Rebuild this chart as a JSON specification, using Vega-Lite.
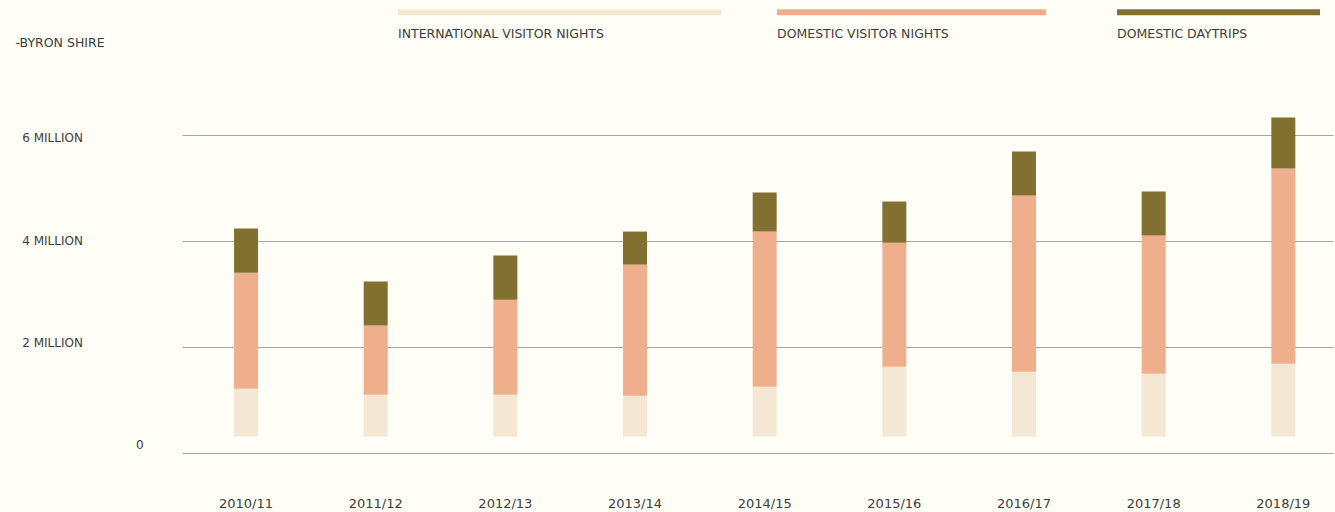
{
  "$schema": "https://vega.github.io/schema/vega-lite/v6.json",
  "width": 1151,
  "height": 344,
  "autosize": {"type": "none"},
  "padding": {"left": 182, "top": 109, "right": 2, "bottom": 59},
  "background": "#fffef6",
  "config": {
    "view": {"stroke": null},
    "axis": {"labelFont": "DejaVu Sans", "titleFont": "DejaVu Sans"}
  },
  "data": {
    "values": [
      {"year": "2010/11", "series": "INTERNATIONAL VISITOR NIGHTS", "value": 0.902},
      {"year": "2010/11", "series": "DOMESTIC VISITOR NIGHTS", "value": 2.192},
      {"year": "2010/11", "series": "DOMESTIC DAYTRIPS", "value": 0.832},
      {"year": "2011/12", "series": "INTERNATIONAL VISITOR NIGHTS", "value": 0.788},
      {"year": "2011/12", "series": "DOMESTIC VISITOR NIGHTS", "value": 1.305},
      {"year": "2011/12", "series": "DOMESTIC DAYTRIPS", "value": 0.832},
      {"year": "2012/13", "series": "INTERNATIONAL VISITOR NIGHTS", "value": 0.788},
      {"year": "2012/13", "series": "DOMESTIC VISITOR NIGHTS", "value": 1.796},
      {"year": "2012/13", "series": "DOMESTIC DAYTRIPS", "value": 0.832},
      {"year": "2013/14", "series": "INTERNATIONAL VISITOR NIGHTS", "value": 0.769},
      {"year": "2013/14", "series": "DOMESTIC VISITOR NIGHTS", "value": 2.477},
      {"year": "2013/14", "series": "DOMESTIC DAYTRIPS", "value": 0.624},
      {"year": "2014/15", "series": "INTERNATIONAL VISITOR NIGHTS", "value": 0.939},
      {"year": "2014/15", "series": "DOMESTIC VISITOR NIGHTS", "value": 2.930},
      {"year": "2014/15", "series": "DOMESTIC DAYTRIPS", "value": 0.737},
      {"year": "2015/16", "series": "INTERNATIONAL VISITOR NIGHTS", "value": 1.317},
      {"year": "2015/16", "series": "DOMESTIC VISITOR NIGHTS", "value": 2.344},
      {"year": "2015/16", "series": "DOMESTIC DAYTRIPS", "value": 0.775},
      {"year": "2016/17", "series": "INTERNATIONAL VISITOR NIGHTS", "value": 1.223},
      {"year": "2016/17", "series": "DOMESTIC VISITOR NIGHTS", "value": 3.327},
      {"year": "2016/17", "series": "DOMESTIC DAYTRIPS", "value": 0.832},
      {"year": "2017/18", "series": "INTERNATIONAL VISITOR NIGHTS", "value": 1.185},
      {"year": "2017/18", "series": "DOMESTIC VISITOR NIGHTS", "value": 2.609},
      {"year": "2017/18", "series": "DOMESTIC DAYTRIPS", "value": 0.832},
      {"year": "2018/19", "series": "INTERNATIONAL VISITOR NIGHTS", "value": 1.374},
      {"year": "2018/19", "series": "DOMESTIC VISITOR NIGHTS", "value": 3.686},
      {"year": "2018/19", "series": "DOMESTIC DAYTRIPS", "value": 0.964}
    ]
  },
  "layer": [
    {
      "data": {"values": [{}]},
      "mark": {"type": "rule", "opacity": 0},
      "encoding": {
        "y": {
          "datum": 0,
          "type": "quantitative",
          "scale": {"domain": [0, 6.5], "nice": false},
          "axis": {
            "orient": "left",
            "values": [0, 2, 4, 6],
            "labelExpr": "datum.value == 0 ? '0' : datum.value + ' MILLION'",
            "title": "-BYRON SHIRE",
            "titleAngle": 0,
            "titleAlign": "left",
            "titleBaseline": "middle",
            "titleX": -167,
            "titleY": -66.3,
            "titleFontSize": 12.5,
            "titleFontWeight": "normal",
            "titleColor": "#3c3c3c",
            "domain": false,
            "ticks": false,
            "tickSize": 0,
            "grid": true,
            "gridColor": "#a5a5ab",
            "gridWidth": 1.2,
            "labelBaseline": "middle",
            "labelFontSize": 12,
            "labelColor": "#3c3c3c",
            "labelAlign": {"condition": {"test": "datum.value == 0", "value": "center"}, "value": "left"},
            "labelPadding": {"condition": {"test": "datum.value == 0", "value": 42.7}, "value": 160.3},
            "labelOffset": {"condition": [{"test": "datum.value == 0", "value": -8.3}, {"test": "datum.value == 2", "value": -4.8}, {"test": "datum.value == 4", "value": -1}], "value": 1.8}
          }
        }
      }
    },
    {
      "mark": {"type": "bar"},
      "encoding": {
        "x": {
          "field": "year",
          "type": "nominal",
          "sort": null,
          "scale": {"paddingInner": 0.815, "paddingOuter": 0.346, "align": 0.58},
          "axis": {
            "title": null,
            "labelAngle": 0,
            "domain": false,
            "ticks": false,
            "tickSize": 0,
            "grid": false,
            "labelPadding": 50.4,
            "labelBaseline": "middle",
            "labelFontSize": 13,
            "labelColor": "#3c3c3c"
          }
        },
        "y": {
          "field": "value",
          "type": "quantitative",
          "stack": "zero",
          "scale": {"domain": [-0.314, 6.186], "nice": false, "zero": false},
          "axis": null
        },
        "color": {
          "field": "series",
          "type": "nominal",
          "sort": ["INTERNATIONAL VISITOR NIGHTS", "DOMESTIC VISITOR NIGHTS", "DOMESTIC DAYTRIPS"],
          "scale": {
            "domain": ["INTERNATIONAL VISITOR NIGHTS", "DOMESTIC VISITOR NIGHTS", "DOMESTIC DAYTRIPS"],
            "range": ["#f4e8d5", "#efaf8c", "#81702f"]
          },
          "legend": {
            "title": null,
            "orient": "none",
            "legendX": 216,
            "legendY": -237.2,
            "direction": "horizontal",
            "columnPadding": 55,
            "padding": 0,
            "symbolStrokeWidth": 0,
            "symbolOpacity": 1,
            "symbolSize": 104976,
            "symbolType": {"expr": "datum.value == 'INTERNATIONAL VISITOR NIGHTS' ? 'M-1,-0.1531H0.9969V-0.116H-1Z' : datum.value == 'DOMESTIC VISITOR NIGHTS' ? 'M-1,-0.1531H0.6605V-0.116H-1ZM0.7587,-0.116' : 'M-1,-0.1531H0.2531V-0.116H-1Z'"},
            "labelOffset": -324,
            "labelAlign": "left",
            "labelBaseline": "middle",
            "labelFont": "DejaVu Sans",
            "labelFontSize": 12.5,
            "labelColor": "#3c3c3c",
            "labelLimit": 0
          }
        }
      }
    }
  ],
  "resolve": {"scale": {"y": "independent"}, "axis": {"y": "independent"}}
}
